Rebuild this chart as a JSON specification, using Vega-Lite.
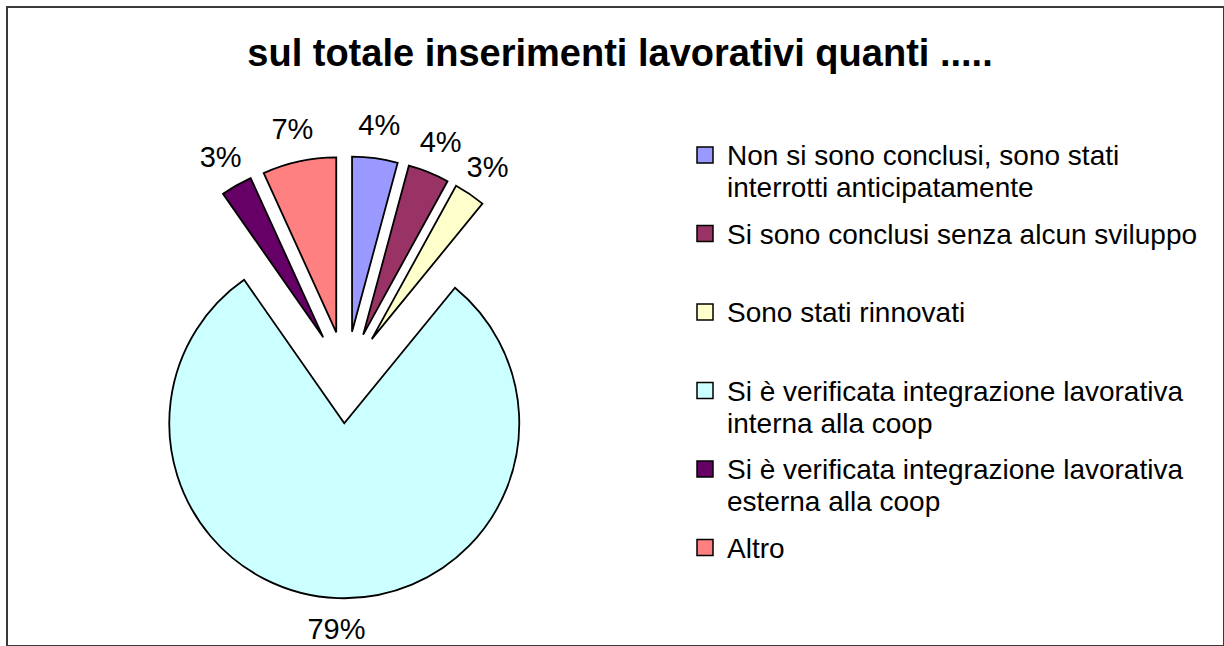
{
  "$schema": "https://vega.github.io/schema/vega-lite/v6.json",
  "autosize": {"type": "none"},
  "padding": {"left": 7, "top": 7, "right": 0, "bottom": 0},
  "width": 1217,
  "height": 639,
  "background": "white",
  "config": {
    "view": {"stroke": "#3a3a3a", "strokeWidth": 2},
    "font": "Liberation Sans"
  },
  "title": {
    "text": "sul totale inserimenti lavorativi quanti .....",
    "font": "Liberation Sans",
    "fontSize": 38,
    "fontWeight": "bold",
    "color": "black",
    "anchor": "middle",
    "baseline": "alphabetic",
    "offset": -97,
    "dx": 4.5
  },
  "data": {
    "values": [
      {"idx": 1, "categoria": "Non si sono conclusi, sono stati interrotti anticipatamente", "valore": 4.2},
      {"idx": 2, "categoria": "Si sono conclusi senza alcun sviluppo", "valore": 3.8},
      {"idx": 3, "categoria": "Sono stati rinnovati", "valore": 2.9},
      {"idx": 4, "categoria": "Si è verificata integrazione lavorativa interna alla coop", "valore": 79.4},
      {"idx": 5, "categoria": "Si è verificata integrazione lavorativa esterna alla coop", "valore": 2.9},
      {"idx": 6, "categoria": "Altro", "valore": 6.8}
    ]
  },
  "transform": [
    {"window": [{"op": "sum", "field": "valore", "as": "cum"}], "sort": [{"field": "idx"}], "frame": [null, 0]},
    {"joinaggregate": [{"op": "sum", "field": "valore", "as": "totale"}]},
    {"calculate": "(datum.cum - datum.valore) / datum.totale", "as": "inizio"},
    {"calculate": "datum.cum / datum.totale", "as": "fine"},
    {"calculate": "(datum.cum - datum.valore / 2) / datum.totale", "as": "meta"},
    {"calculate": "datum.valore / datum.totale", "as": "quota"},
    {"calculate": "sin(2 * PI * datum.meta)", "as": "ex"},
    {"calculate": "cos(2 * PI * datum.meta)", "as": "ey"}
  ],
  "encoding": {
    "x": {"field": "ex", "type": "quantitative", "axis": null, "scale": {"domain": [-1, 1], "range": [293, 385], "zero": false, "nice": false}},
    "y": {"field": "ey", "type": "quantitative", "axis": null, "scale": {"domain": [-1, 1], "range": [416.3, 324.3], "zero": false, "nice": false}}
  },
  "layer": [
    {
      "mark": {"type": "arc", "outerRadius": 175, "stroke": "black", "strokeWidth": 1.8, "strokeJoin": "miter"},
      "encoding": {
        "theta": {"field": "inizio", "type": "quantitative", "stack": null, "scale": {"domain": [0, 1], "range": [0, 6.283185307179586], "zero": false, "nice": false}},
        "theta2": {"field": "fine"},
        "color": {
          "field": "categoria",
          "type": "nominal",
          "scale": {
            "domain": [
              "Non si sono conclusi, sono stati interrotti anticipatamente",
              "Si sono conclusi senza alcun sviluppo",
              "Sono stati rinnovati",
              "Si è verificata integrazione lavorativa interna alla coop",
              "Si è verificata integrazione lavorativa esterna alla coop",
              "Altro"
            ],
            "range": ["#9999FF", "#993366", "#FFFFCC", "#CCFFFF", "#660066", "#FF8080"]
          },
          "legend": {
            "title": null,
            "orient": "none",
            "legendX": 684,
            "legendY": 134,
            "padding": 0,
            "symbolType": "square",
            "symbolSize": 256,
            "symbolStrokeColor": "black",
            "symbolStrokeWidth": 1.5,
            "symbolFillOpacity": 1,
            "symbolOpacity": 1,
            "labelFont": "Liberation Sans",
            "labelFontSize": 28,
            "labelColor": "black",
            "labelLimit": 0,
            "labelOffset": 8,
            "labelBaseline": "alphabetic",
            "rowPadding": 16.5,
            "labelExpr": "datum.label == 'Non si sono conclusi, sono stati interrotti anticipatamente' ? ['Non si sono conclusi, sono stati', 'interrotti anticipatamente'] : datum.label == 'Si è verificata integrazione lavorativa interna alla coop' ? ['Si è verificata integrazione lavorativa', 'interna alla coop'] : datum.label == 'Si è verificata integrazione lavorativa esterna alla coop' ? ['Si è verificata integrazione lavorativa', 'esterna alla coop'] : [datum.label, ' ']",
            "encoding": {
              "labels": {"dy": {"value": 10}, "lineHeight": {"value": 32}}
            }
          }
        }
      }
    },
    {
      "mark": {"type": "text", "radius": 207, "font": "Liberation Sans", "fontSize": 29, "color": "black", "align": "center", "baseline": "middle"},
      "encoding": {
        "theta": {"field": "meta", "type": "quantitative", "stack": null},
        "text": {"field": "quota", "type": "quantitative", "format": ".0%"}
      }
    }
  ]
}
